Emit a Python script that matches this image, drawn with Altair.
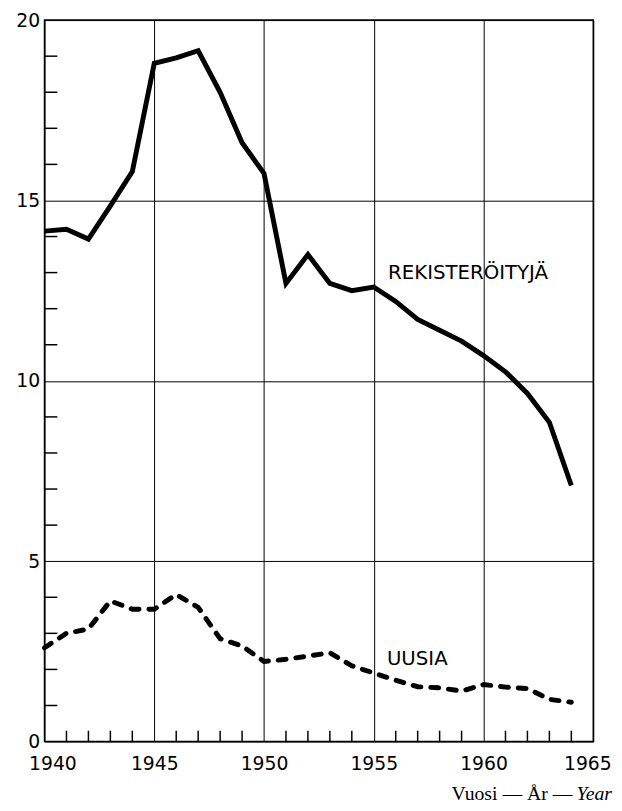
import altair as alt
import pandas as pd

years = list(range(1940, 1965))
registered = [14.15, 14.2, 13.93, 14.85, 15.8, 18.8, 18.95, 19.15, 18.0, 16.6,
              15.75, 12.7, 13.5, 12.7, 12.5, 12.6, 12.2, 11.7, 11.4, 11.1,
              10.7, 10.25, 9.65, 8.85, 7.1]
new_cars = [2.6, 3.0, 3.12, 3.9, 3.67, 3.67, 4.08, 3.72, 2.85, 2.65,
            2.22, 2.28, 2.37, 2.46, 2.1, 1.9, 1.7, 1.52, 1.49, 1.4,
            1.58, 1.51, 1.47, 1.17, 1.09]
x_ticks = [1940, 1945, 1950, 1955, 1960, 1965]
y_ticks = [0, 5, 10, 15, 20]
minor_years = [y for y in range(1941, 1965) if y % 5]
minor_vals = [v for v in range(1, 20) if v % 5]
label_text = ["REKISTERÖITYJÄ", "UUSIA"]
label_x = [1955.65, 1955.6]
label_y = [13.0, 2.3]
title_parts = ["Vuosi — År — ", "Year"]

W, H = 556, 731
SANS = "DejaVu Sans"
SERIF = "Liberation Serif"

xs = alt.Scale(domain=[1940, 1965], nice=False, zero=False)
ys = alt.Scale(domain=[0, 20], nice=False)

xaxis = alt.Axis(values=x_ticks, format="d", grid=True, gridColor="black",
                 gridWidth=1, gridOpacity=1, ticks=False, domain=False,
                 labelFont=SANS, labelFontSize=19, labelColor="black",
                 labelPadding=13, title=None, labelFlush=False,
                 labelOffset={"condition": [{"test": "datum.value == 1940", "value": 8},
                                            {"test": "datum.value == 1965", "value": -6}],
                              "value": 0})
yaxis = alt.Axis(values=y_ticks, grid=True, gridColor="black", gridWidth=1,
                 gridOpacity=1, ticks=False, domain=False, labelFlush=False,
                 labelFont=SANS, labelFontSize=19, labelColor="black",
                 labelPadding=5, title=None)

df = pd.DataFrame({"year": years, "reg": registered, "new": new_cars})

reg_line = alt.Chart(df).mark_line(color="black", strokeWidth=5, strokeMiterLimit=4).encode(
    x=alt.X("year:Q", scale=xs, axis=xaxis),
    y=alt.Y("reg:Q", scale=ys, axis=yaxis),
)
new_line = alt.Chart(df).mark_line(color="black", strokeWidth=5, strokeDash=[8, 10],
                                   strokeCap="round").encode(
    x=alt.X("year:Q", scale=xs, axis=xaxis),
    y=alt.Y("new:Q", scale=ys, axis=yaxis),
)

ytick_df = pd.DataFrame({"v": minor_vals})
ytick = alt.Chart(ytick_df).mark_rule(color="black", strokeWidth=1.5).encode(
    y=alt.Y("v:Q", scale=ys, axis=yaxis),
    x=alt.value(0), x2=alt.value(13),
)
xtick_df = pd.DataFrame({"yr": minor_years})
xtick = alt.Chart(xtick_df).mark_rule(color="black", strokeWidth=1.5).encode(
    x=alt.X("yr:Q", scale=xs, axis=xaxis),
    y=alt.value(H), y2=alt.value(H - 11),
)

lab_df = pd.DataFrame({"t": label_text, "x": label_x, "y": label_y})
labels = alt.Chart(lab_df).mark_text(align="left", baseline="middle", font=SANS,
                                     fontSize=20, color="black").encode(
    x=alt.X("x:Q", scale=xs, axis=xaxis),
    y=alt.Y("y:Q", scale=ys, axis=yaxis),
    text="t:N",
)

t1 = alt.Chart(pd.DataFrame({"t": [title_parts[0]]})).mark_text(
    align="right", baseline="middle", font=SERIF, fontSize=20, color="black").encode(
    x=alt.value(W + 19 - 40), y=alt.value(H + 53), text="t:N")
t2 = alt.Chart(pd.DataFrame({"t": [title_parts[1]]})).mark_text(
    align="right", baseline="middle", font=SERIF, fontSize=20, fontStyle="italic",
    color="black").encode(
    x=alt.value(W + 19), y=alt.value(H + 53), text="t:N")

chart = alt.layer(ytick, xtick, reg_line, new_line, labels, t1, t2).properties(
    width=W, height=H, autosize="none",
    padding={"left": 37, "top": 7, "right": 21, "bottom": 57},
    background="white",
).configure_view(stroke="black", strokeWidth=1.5)

chart.save("out.html", embed_options={"renderer": "svg", "actions": False})
